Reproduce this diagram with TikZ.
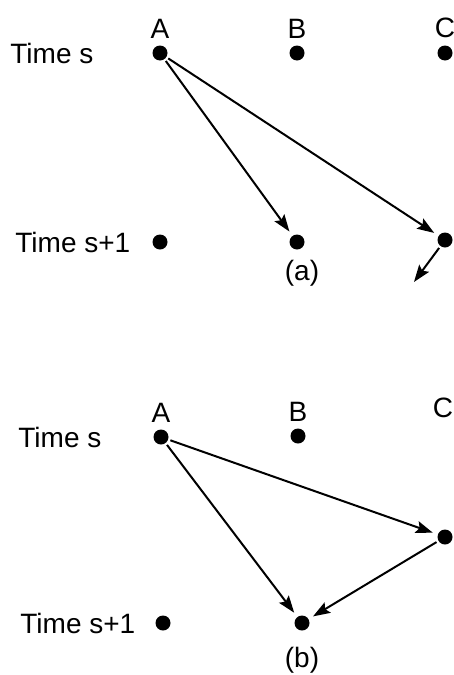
\documentclass[tikz,border=0pt]{standalone}
\usepackage{fontspec}
\setmainfont{Liberation Sans}
\usetikzlibrary{arrows.meta,positioning}

\begin{document}
\begin{tikzpicture}[x=0.5pt,y=-0.5pt,
    every node/.style={font=\fontsize{14}{16}\selectfont},
    state/.style={circle,fill=black,inner sep=0pt,minimum size=7.5pt,
                  label distance=4.5pt},
    rowtext/.style={anchor=west,inner sep=0pt},
    move/.style={-{Stealth[length=8.5pt,width=6pt,inset=1.5pt]},
                 line width=1pt,shorten >=2.5pt,shorten <=1pt}]
  \useasboundingbox (0,0) rectangle (454,675);

  % Panel (a)
  \node[rowtext] (sa) at (10,53) {Time s};
  \node[rowtext] (ta) at (15,242) {Time s+1};
  \node[state,label=above:A] (Aa) at (160,53) {};
  \node[state,label=above:B] (Ba) at (297,53) {};
  \node[state,label=above:C] (Ca) at (445,53) {};
  \node[state] (Aa1) at (160,242) {};
  \node[state] (Ba1) at (297,242) {};
  \node[state] (Ca1) at (445,240) {};
  \coordinate (out) at (411,286);
  \node (capa) at (302,273) {(a)};
  \draw[move] (Aa) -- (Ba1);
  \draw[move] (Aa) -- (Ca1);
  \draw[move] (Ca1) -- (out);

  % Panel (b)
  \node[rowtext] (sb) at (18,437) {Time s};
  \node[rowtext] (tb) at (20,623) {Time s+1};
  \node[state,label=above:A] (Ab) at (161,437) {};
  \node[state,label=above:B] (Bb) at (298,436) {};
  \node (Cb) at (443,408) {C};
  \node[state] (Cm) at (445,537) {};
  \node[state] (Ab1) at (163,623) {};
  \node[state] (Bb1) at (302,623) {};
  \node (capb) at (302,660) {(b)};
  \draw[move] (Ab) -- (Cm);
  \draw[move] (Ab) -- (Bb1);
  \draw[move] (Cm) -- (Bb1);
\end{tikzpicture}
\end{document}
